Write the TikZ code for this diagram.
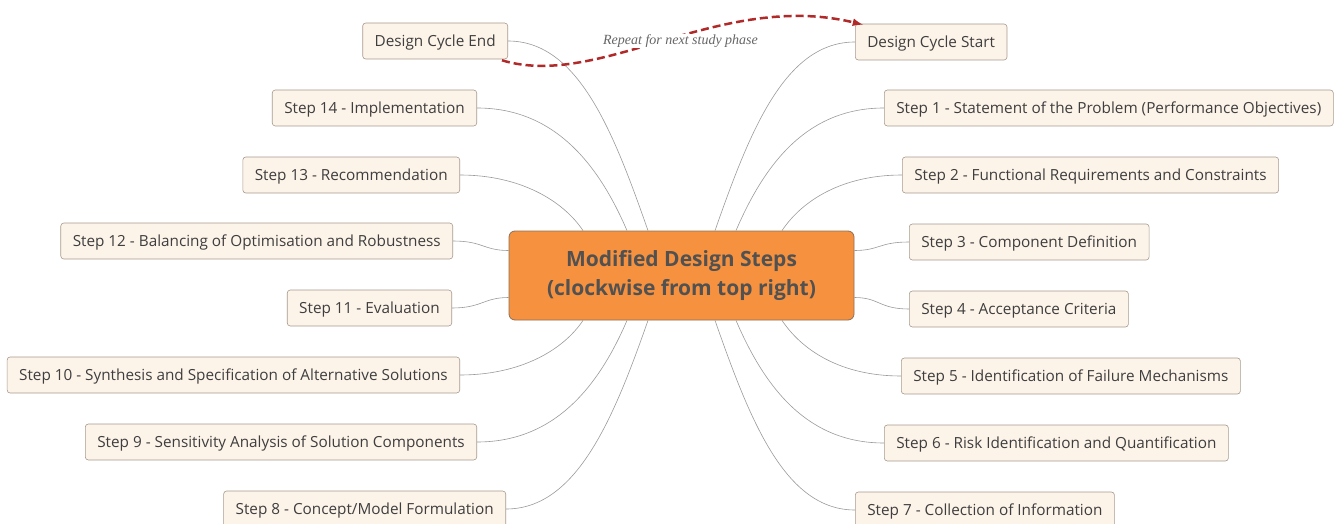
\documentclass[tikz,border=0pt]{standalone}
\usepackage{fontspec}
\setmainfont{Open Sans}
\newfontfamily\notefont{Liberation Serif}
\usetikzlibrary{arrows}
\definecolor{boxfill}{HTML}{FCF3E9}
\definecolor{boxline}{HTML}{A79A8E}
\definecolor{hubfill}{HTML}{F6923F}
\definecolor{hubline}{HTML}{8C6E58}
\definecolor{linkgray}{HTML}{9A9A9A}
\definecolor{loopred}{HTML}{B02A2A}
\definecolor{txt}{HTML}{3E3E3E}

\tikzset{
  stepbox/.style={draw=boxline,fill=boxfill,rounded corners=3pt,line width=0.6pt,
    minimum height=36pt,inner xsep=12pt,text height=10.5pt,text depth=0pt,
    text=txt,font=\fontsize{15.3}{18}\selectfont},
  hubbox/.style={draw=hubline,fill=hubfill,rounded corners=6pt,line width=0.8pt,
    minimum width=345pt,minimum height=89pt,align=center,text=txt!90!white,
    font=\bfseries\fontsize{21}{29}\selectfont},
  link/.style={draw=linkgray,line width=0.6pt},
  loop/.style={draw=loopred,line width=2.5pt,dash pattern=on 8pt off 4pt,-latex}
}

\begin{document}
\begin{tikzpicture}[x=1pt,y=-1pt]
\useasboundingbox (0,0) rectangle (1341,524);

\node[hubbox] (hub) at (681.5,275.5) {Modified Design Steps\\(clockwise from top right)};

% left side
\node[stepbox,anchor=east] (cend) at (508,41) {Design Cycle End};
\node[stepbox,anchor=east] (s14) at (477,108) {Step 14 - Implementation};
\node[stepbox,anchor=east] (s13) at (460,175) {Step 13 - Recommendation};
\node[stepbox,anchor=east] (s12) at (453,241) {Step 12 - Balancing of Optimisation and Robustness};
\node[stepbox,anchor=east] (s11) at (452,308) {Step 11 - Evaluation};
\node[stepbox,anchor=east] (s10) at (460,375) {Step 10 - Synthesis and Specification of Alternative Solutions};
\node[stepbox,anchor=east] (s9) at (477,442) {Step 9 - Sensitivity Analysis of Solution Components};
\node[stepbox,anchor=east] (s8) at (506,509) {Step 8 - Concept/Model Formulation};

% right side
\node[stepbox,anchor=west] (cstart) at (855,42) {Design Cycle Start};
\node[stepbox,anchor=west] (s1) at (884,108) {Step 1 - Statement of the Problem (Performance Objectives)};
\node[stepbox,anchor=west] (s2) at (902,175) {Step 2 - Functional Requirements and Constraints};
\node[stepbox,anchor=west] (s3) at (909,242) {Step 3 - Component Definition};
\node[stepbox,anchor=west] (s4) at (909,309) {Step 4 - Acceptance Criteria};
\node[stepbox,anchor=west] (s5) at (901,376) {Step 5 - Identification of Failure Mechanisms};
\node[stepbox,anchor=west] (s6) at (884,443) {Step 6 - Risk Identification and Quantification};
\node[stepbox,anchor=west] (s7) at (855,510) {Step 7 - Collection of Information};

% connectors to the hub
\draw[link] (cend.east) .. controls +(70,0) and +(-35,-100) .. ([xshift=-33.5pt]hub.north);
\draw[link] (s14.east) .. controls +(75,0) and +(-30,-70) .. ([xshift=-54.5pt]hub.north);
\draw[link] (s13.east) .. controls +(60,0) and +(-20,-30) .. ([xshift=-98.5pt]hub.north);
\draw[link] (s12.east) .. controls +(30,0) and +(-25,0) .. ([yshift=25pt]hub.west);
\draw[link] (s11.east) .. controls +(30,0) and +(-25,0) .. ([yshift=-22pt]hub.west);
\draw[link] (s10.east) .. controls +(60,0) and +(-20,30) .. ([xshift=-98.5pt]hub.south);
\draw[link] (s9.east) .. controls +(75,0) and +(-30,70) .. ([xshift=-54.5pt]hub.south);
\draw[link] (s8.east) .. controls +(70,0) and +(-35,100) .. ([xshift=-33.5pt]hub.south);

\draw[link] (cstart.west) .. controls +(-70,0) and +(35,-100) .. ([xshift=33.5pt]hub.north);
\draw[link] (s1.west) .. controls +(-75,0) and +(30,-70) .. ([xshift=54.5pt]hub.north);
\draw[link] (s2.west) .. controls +(-60,0) and +(20,-30) .. ([xshift=100.5pt]hub.north);
\draw[link] (s3.west) .. controls +(-30,0) and +(25,0) .. ([yshift=25pt]hub.east);
\draw[link] (s4.west) .. controls +(-30,0) and +(25,0) .. ([yshift=-22pt]hub.east);
\draw[link] (s5.west) .. controls +(-60,0) and +(20,30) .. ([xshift=100.5pt]hub.south);
\draw[link] (s6.west) .. controls +(-75,0) and +(30,70) .. ([xshift=54.5pt]hub.south);
\draw[link] (s7.west) .. controls +(-70,0) and +(35,100) .. ([xshift=33.5pt]hub.south);

% loop back to the start
\draw[loop] ([xshift=-6pt,yshift=-1pt]cend.south east) .. controls (600,90) and (720,-10) .. ([xshift=8pt,yshift=-1pt]cstart.north west);
\node[fill=white,inner sep=1pt,text=black!60,font=\notefont\itshape\fontsize{14}{16}\selectfont] (note) at (680.5,41) {Repeat for next study phase};
\end{tikzpicture}
\end{document}
